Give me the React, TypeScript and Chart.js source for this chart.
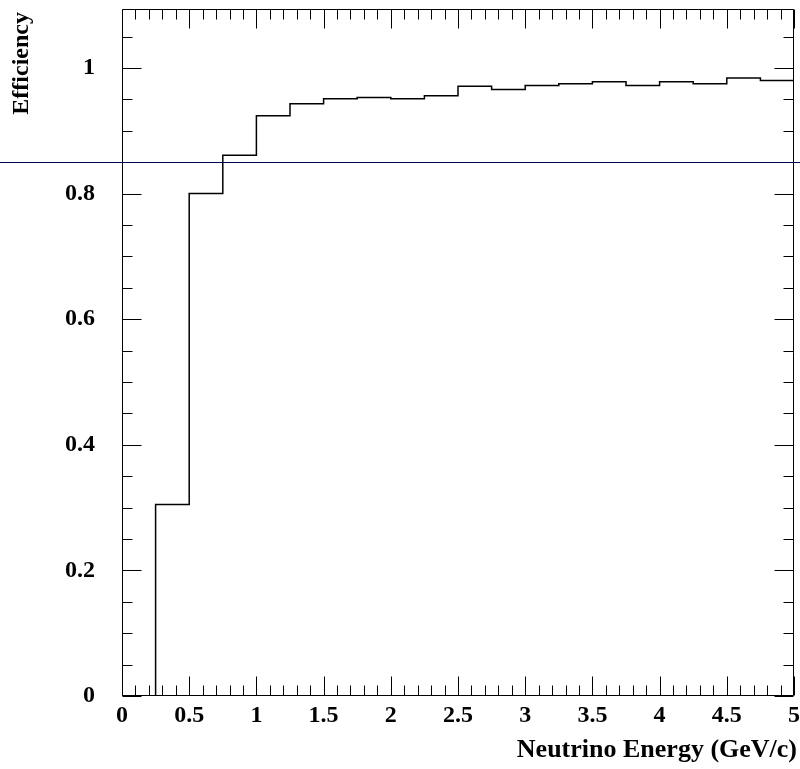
import React, { useEffect, useRef } from "react";
import { Chart, registerables } from "chart.js";

Chart.register(...registerables);

// ---- data ----
const BIN_EDGES = [0, 0.25, 0.5, 0.75, 1, 1.25, 1.5, 1.75, 2, 2.25, 2.5, 2.75, 3, 3.25, 3.5, 3.75, 4, 4.25, 4.5, 4.75];
const EFFICIENCY = [0, 0.305, 0.8, 0.861, 0.924, 0.943, 0.951, 0.953, 0.951, 0.956, 0.971, 0.966, 0.972, 0.975, 0.978, 0.972, 0.978, 0.975, 0.984, 0.98];
const X_MIN = 0;
const X_MAX = 5;
const Y_MIN = 0;
const Y_MAX = 1.094;
const X_TICKS = [0, 0.5, 1, 1.5, 2, 2.5, 3, 3.5, 4, 4.5, 5];
const X_TICK_LABELS = ["0", "0.5", "1", "1.5", "2", "2.5", "3", "3.5", "4", "4.5", "5"];
const Y_TICKS = [0, 0.2, 0.4, 0.6, 0.8, 1];
const Y_TICK_LABELS = ["0", "0.2", "0.4", "0.6", "0.8", "1"];
const X_MINOR_STEP = 0.1;
const Y_MINOR_STEP = 0.05;
const CUT_VALUE = 0.85;
const X_TITLE = "Neutrino Energy (GeV/c)";
const Y_TITLE = "Efficiency";

const FONT_FAMILY = '"Liberation Serif", "Times New Roman", serif';

const rootFramePlugin = {
  id: "rootFrame",
  afterDatasetsDraw(chart: any) {
    const { ctx, chartArea: a, scales } = chart;
    const xs = scales.x;
    const ys = scales.y;
    ctx.save();
    ctx.strokeStyle = "#000";
    ctx.lineWidth = 1;
    const L = Math.round(a.left) + 0.5;
    const R = Math.round(a.right) - 0.5;
    const T = Math.round(a.top) + 0.5;
    const B = Math.round(a.bottom) - 0.5;
    ctx.beginPath();
    ctx.rect(L, T, R - L, B - T);
    ctx.stroke();

    const MAJ = 19;
    const MIN = 10;
    ctx.beginPath();
    const nx = Math.round((X_MAX - X_MIN) / X_MINOR_STEP);
    for (let i = 0; i <= nx; i++) {
      const v = X_MIN + i * X_MINOR_STEP;
      const major = X_TICKS.some((t) => Math.abs(t - v) < 1e-6);
      const len = major ? MAJ : MIN;
      const px = Math.round(xs.getPixelForValue(v)) + 0.5;
      ctx.moveTo(px, B);
      ctx.lineTo(px, B - len);
      ctx.moveTo(px, T);
      ctx.lineTo(px, T + len);
    }
    const ny = Math.floor((Y_MAX - Y_MIN) / Y_MINOR_STEP + 1e-6);
    for (let i = 0; i <= ny; i++) {
      const v = Y_MIN + i * Y_MINOR_STEP;
      const major = Y_TICKS.some((t) => Math.abs(t - v) < 1e-6);
      const len = major ? MAJ : MIN;
      const py = Math.round(ys.getPixelForValue(v)) + 0.5;
      ctx.moveTo(L, py);
      ctx.lineTo(L + len, py);
      ctx.moveTo(R, py);
      ctx.lineTo(R - len, py);
    }
    ctx.stroke();

    const cy = Math.round(ys.getPixelForValue(CUT_VALUE)) + 0.5;
    ctx.strokeStyle = "#000050";
    ctx.lineWidth = 1;
    ctx.beginPath();
    ctx.moveTo(0, cy);
    ctx.lineTo(chart.width, cy);
    ctx.stroke();

    ctx.fillStyle = "#000";
    ctx.font = `bold 26px ${FONT_FAMILY}`;
    ctx.textAlign = "right";
    ctx.textBaseline = "alphabetic";
    ctx.fillText(X_TITLE, 797, 757);

    ctx.font = `bold 24px ${FONT_FAMILY}`;
    ctx.save();
    ctx.translate(28, 12);
    ctx.rotate(-Math.PI / 2);
    ctx.textAlign = "right";
    ctx.fillText(Y_TITLE, 0, 0);
    ctx.restore();

    ctx.restore();
  },
};

export default function App() {
  const ref = useRef<HTMLCanvasElement>(null);

  useEffect(() => {
    document.body.style.margin = "0";
    const points = BIN_EDGES.map((e, i) => ({ x: e, y: EFFICIENCY[i] }));
    points.push({ x: X_MAX, y: EFFICIENCY[EFFICIENCY.length - 1] });

    const chart = new Chart(ref.current as HTMLCanvasElement, {
      type: "line",
      data: {
        datasets: [
          {
            data: points,
            stepped: "before",
            borderColor: "#000",
            borderWidth: 1.5,
            pointRadius: 0,
            fill: false,
            tension: 0,
          },
        ],
      },
      plugins: [rootFramePlugin],
      options: {
        responsive: false,
        animation: false,
        devicePixelRatio: 1,
        layout: { padding: { left: 0, top: 9, right: 6, bottom: 0 } },
        plugins: {
          legend: { display: false },
          tooltip: { enabled: false },
        },
        scales: {
          x: {
            type: "linear",
            min: X_MIN,
            max: X_MAX,
            grid: { display: false, drawTicks: false, tickLength: 0 },
            border: { display: false },
            afterBuildTicks: (s: any) => {
              s.ticks = X_TICKS.map((v) => ({ value: v }));
            },
            afterFit: (s: any) => {
              s.height = 73;
              s.paddingLeft = 0;
              s.paddingRight = 0;
              s.paddingTop = 0;
              s.paddingBottom = 0;
            },
            ticks: {
              autoSkip: false,
              maxRotation: 0,
              minRotation: 0,
              padding: 5,
              color: "#000",
              font: { family: FONT_FAMILY, weight: "bold", size: 24 },
              callback: (_v: any, i: number) => X_TICK_LABELS[i],
            },
          },
          y: {
            type: "linear",
            min: Y_MIN,
            max: Y_MAX,
            grid: { display: false, drawTicks: false, tickLength: 0 },
            border: { display: false },
            afterBuildTicks: (s: any) => {
              s.ticks = Y_TICKS.map((v) => ({ value: v }));
            },
            afterFit: (s: any) => {
              s.width = 122;
              s.paddingLeft = 0;
              s.paddingRight = 0;
              s.paddingTop = 0;
              s.paddingBottom = 0;
            },
            ticks: {
              autoSkip: false,
              padding: 27,
              color: "#000",
              font: { family: FONT_FAMILY, weight: "bold", size: 24 },
              callback: (_v: any, i: number) => Y_TICK_LABELS[i],
            },
          },
        },
      } as any,
    });
    return () => chart.destroy();
  }, []);

  return (
    <div style={{ width: 800, height: 769 }}>
      <canvas ref={ref} width={800} height={769} style={{ display: "block" }} />
    </div>
  );
}
